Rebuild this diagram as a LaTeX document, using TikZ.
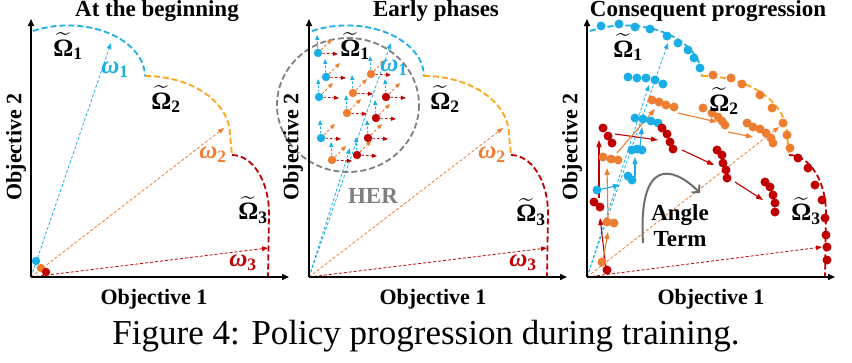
\documentclass[tikz,border=0pt]{standalone}
\usepackage{amsmath}
\usepackage{fontspec}
\setmainfont{Liberation Serif}
\usetikzlibrary{arrows.meta}
\definecolor{cblue}{HTML}{1AADE6}
\definecolor{carcO}{HTML}{FFA31A}
\definecolor{corng}{HTML}{ED7D31}
\definecolor{cred}{HTML}{C00000}
\definecolor{cgray}{HTML}{7F7F7F}
\definecolor{cdgray}{HTML}{6E6E6E}
\newcommand\Omt[1]{$\widetilde{\text{\bfseries Ω}}_{\text{\bfseries #1}}$}
\newcommand\omv[1]{$\text{\bfseries\itshape ω}_{\text{\bfseries #1}}$}
\begin{document}
\begin{tikzpicture}[x=1pt,y=-1pt,
  axis/.style={line width=1.5pt,-{Triangle[length=7pt,width=6pt]}},
  front/.style={line width=1.8pt,dash pattern=on 6pt off 3pt},
  vec/.style={line width=0.8pt,dash pattern=on 3pt off 2pt,-{Triangle[length=6pt,width=4.5pt]}},
  her/.style={line width=0.8pt,dash pattern=on 2.5pt off 2pt,-{Triangle[length=5pt,width=4pt]}},
  mv/.style={line width=1.1pt,-{Triangle[length=7pt,width=5pt]}},
  ttl/.style={font=\bfseries\fontsize{23}{23}\selectfont,inner sep=0},
  axl/.style={font=\bfseries\fontsize{22}{22}\selectfont,inner sep=0},
  sym/.style={font=\fontsize{25}{25}\selectfont,inner sep=0},
  txt/.style={font=\bfseries\fontsize{23}{26}\selectfont,inner sep=0,align=center}
]
\useasboundingbox[fill=white] (0,0) rectangle (852,362);

% ---------- fronts (three panels) ----------
\foreach \dx in {0,279,557}{
  \begin{scope}[xshift=\dx]
    \draw[front,cblue] (33,31) arc[start angle=-117,end angle=0,x radius=77,y radius=51];
    \draw[front,carcO] (145,76) arc[start angle=-90,end angle=0,x radius=85,y radius=59] -- (232,155);
    \draw[front,cred] (232,155) arc[start angle=-90,end angle=0,x radius=37,y radius=58] -- (268,277);
  \end{scope}
}

% ---------- panel 1 ----------
\coordinate (o1) at (31,277);
\coordinate (y1) at (31,19);
\coordinate (x1) at (289,277);
\coordinate (a1) at (111,43);
\coordinate (b1) at (224,128);
\coordinate (c1) at (268,248);
\draw[vec,cblue] (o1) -- (a1);
\draw[vec,corng] (o1) -- (b1);
\draw[vec,cred] (o1) -- (c1);
\draw[axis] (o1) -- (y1);
\draw[axis] (o1) -- (x1);
\fill[cblue] (36,261) circle (4.2);
\fill[corng] (41,268) circle (4.2);
\fill[cred] (46,272) circle (4.2);
\node[ttl] (t1) at (157,11) {At the beginning};
\node[axl] (xl1) at (154,299) {Objective 1};
\node[axl,rotate=90] (yl1) at (16,147) {Objective 2};
\node[sym] (O11) at (68,46) {\Omt{1}};
\node[sym] (O12) at (166,99) {\Omt{2}};
\node[sym] (O13) at (253,210) {\Omt{3}};
\node[sym,cblue] (w11) at (115,70) {\omv{1}};
\node[sym,corng] (w12) at (213,155) {\omv{2}};
\node[sym,cred] (w13) at (243,263) {\omv{3}};

% ---------- panel 2 ----------
\coordinate (o2) at (309,277);
\coordinate (y2) at (309,19);
\coordinate (x2) at (567,277);
\coordinate (a2) at (391,43);
\coordinate (a2b) at (350,148);
\coordinate (b2) at (503,128);
\coordinate (c2) at (547,248);
\draw[vec,cblue] (o2) -- (a2);
\draw[vec,cblue] (o2) -- (a2b);
\draw[vec,corng] (o2) -- (b2);
\draw[vec,cred] (o2) -- (c2);
\draw[cgray,line width=1.8pt,dash pattern=on 6pt off 3pt] (348,105) ellipse[x radius=71,y radius=67];
\foreach \x/\y in {318/53,326/77,319/97,321/138,371/74,353/93,347/113,332/160,386/97,376/118,368/138,357/155}{
  \draw[her,cblue] (\x,\y) -- ++(-1,-18);
  \draw[her,cred] (\x,\y) -- ++(20,1);
  \draw[her,corng] (\x,\y) -- ++(14,-14);
}
\foreach \x/\y in {318/53,326/77,319/97,321/138}{\fill[cblue] (\x,\y) circle (4.2);}
\foreach \x/\y in {371/74,353/93,347/113,332/160}{\fill[corng] (\x,\y) circle (4.2);}
\foreach \x/\y in {386/97,376/118,368/138,357/155}{\fill[cred] (\x,\y) circle (4.2);}
\draw[axis] (o2) -- (y2);
\draw[axis] (o2) -- (x2);
\node[ttl] (t2) at (436,11) {Early phases};
\node[axl] (xl2) at (433,299) {Objective 1};
\node[axl,rotate=90] (yl2) at (293,147) {Objective 2};
\node[sym] (O21) at (355,46) {\Omt{1}};
\node[sym] (O22) at (445,99) {\Omt{2}};
\node[sym] (O23) at (531,212) {\Omt{3}};
\node[sym,cblue] (w21) at (394,68) {\omv{1}};
\node[sym,corng] (w22) at (492,155) {\omv{2}};
\node[sym,cred] (w23) at (523,263) {\omv{3}};
\node[txt,cgray] (her) at (373,196) {HER};

% ---------- panel 3 ----------
\coordinate (o3) at (587,277);
\coordinate (y3) at (587,19);
\coordinate (x3) at (835,277);
\coordinate (a3) at (668,43);
\coordinate (a3b) at (649,85);
\coordinate (b3) at (779,127);
\coordinate (c3) at (822,247);
\draw[vec,cblue] (o3) -- (a3);
\draw[vec,cblue] (o3) -- (a3b);
\draw[vec,corng] (o3) -- (b3);
\draw[vec,cred] (o3) -- (c3);
% solid moves
\draw[mv,cred] (606,268) -- (600,218);
\draw[mv,cred] (599,198) -- (599,140);
\draw[mv,cred] (615,134) -- (658,140);
\draw[mv,cred] (682,150) -- (714,165);
\draw[mv,cred] (735,182) -- (763,200);
\draw[mv,corng] (603,260) -- (608,232);
\draw[mv,corng] (608,218) -- (607,168);
\draw[mv,corng] (617,153) -- (655,109);
\draw[mv,corng] (678,113) -- (717,122);
\draw[mv,corng] (728,132) -- (753,137);
\draw[mv,cblue] (598,190) -- (620,185);
\draw[mv,cblue] (635,177) -- (635,157);
\draw[mv,cblue] (640,147) -- (642,127);
% dots
\foreach \x/\y in {601/26,619/24,635/27,650/29,667/36,678/43,688/50,694/58,700/68,
  628/77,637/78,646/78,655/80,663/84,
  635/118,643/119,651/121,658/123,
  632/150,637/149,642/150,628/176,632/180,597/190}{\fill[cblue] (\x,\y) circle (4.5);}
\foreach \x/\y in {713/75,731/78,742/84,760/95,772/108,783/123,787/135,790/148,
  652/100,659/102,666/105,674/107,
  603/157,611/159,618/160,607/222,614/223,602/262,
  703/108,712/113,718/117,722/121,725/125,
  747/123,753/127,760/129,766/133,771/138,773/143}{\fill[corng] (\x,\y) circle (4.5);}
\foreach \x/\y in {798/158,808/168,815/185,822/200,825/218,826/235,827/247,827/260,
  603/128,608/136,612/143,
  662/128,667/134,670/142,673/149,
  594/202,600/207,607/270,
  717/150,722/155,723/163,726/170,727/178,
  765/182,770/187,773/195,775/203,775/212}{\fill[cred] (\x,\y) circle (4.5);}
\draw[axis] (o3) -- (y3);
\draw[axis] (o3) -- (x3);
\coordinate (ts) at (643,243);
\coordinate (te) at (700,193);
\draw[cdgray,line width=2pt,-{Straight Barb[length=5pt,width=11pt]}] (ts) .. controls (638,158) and (672,165) .. (te);
\node[txt] (ang) at (680,226) {Angle\\Term};
\node[ttl] (t3) at (708,11) {Consequent progression};
\node[axl] (xl3) at (711,299) {Objective 1};
\node[axl,rotate=90] (yl3) at (572,147) {Objective 2};
\node[sym] (O31) at (628,47) {\Omt{1}};
\node[sym] (O32) at (724,101) {\Omt{2}};
\node[sym] (O33) at (806,211) {\Omt{3}};

% ---------- caption ----------
\node[font=\fontsize{35}{35}\selectfont,anchor=base,inner sep=0] (cap) at (426,344) {Figure 4: Policy progression during training.};
\end{tikzpicture}
\end{document}
